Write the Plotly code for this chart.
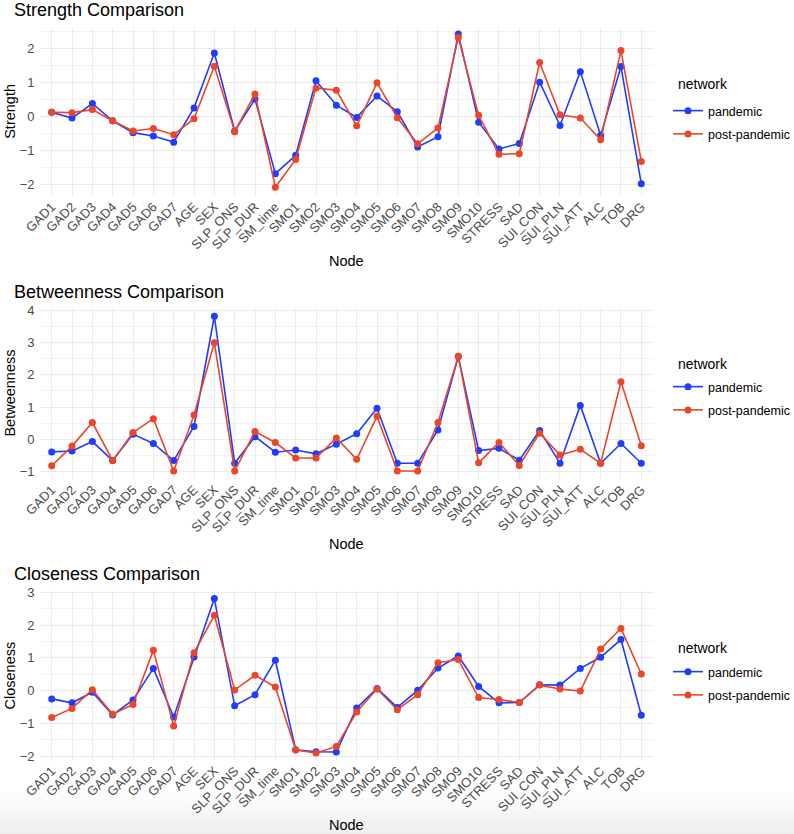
import plotly.graph_objects as go

nodes = ["GAD1", "GAD2", "GAD3", "GAD4", "GAD5", "GAD6", "GAD7", "AGE", "SEX",
         "SLP_ONS", "SLP_DUR", "SM_time", "SMO1", "SMO2", "SMO3", "SMO4", "SMO5",
         "SMO6", "SMO7", "SMO8", "SMO9", "SMO10", "STRESS", "SAD", "SUI_CON",
         "SUI_PLN", "SUI_ATT", "ALC", "TOB", "DRG"]

strength_pandemic = [0.13, -0.04, 0.39, -0.12, -0.47, -0.57, -0.75, 0.26, 1.88, -0.42,
                     0.52, -1.68, -1.14, 1.06, 0.34, -0.02, 0.61, 0.15, -0.89, -0.59,
                     2.44, -0.16, -0.95, -0.79, 1.02, -0.26, 1.33, -0.55, 1.48, -1.98]
strength_post = [0.13, 0.12, 0.21, -0.12, -0.42, -0.35, -0.53, -0.06, 1.49, -0.44,
                 0.67, -2.08, -1.26, 0.85, 0.78, -0.27, 1.00, -0.03, -0.80, -0.33,
                 2.34, 0.04, -1.11, -1.09, 1.60, 0.06, -0.04, -0.68, 1.95, -1.32]

betweenness_pandemic = [-0.39, -0.36, -0.07, -0.66, 0.16, -0.13, -0.66, 0.40, 3.81, -0.74,
                        0.08, -0.40, -0.33, -0.45, -0.15, 0.17, 0.96, -0.74, -0.74, 0.29,
                        2.56, -0.35, -0.28, -0.65, 0.27, -0.74, 1.05, -0.74, -0.13, -0.74]
betweenness_post = [-0.82, -0.21, 0.52, -0.66, 0.21, 0.64, -0.98, 0.75, 2.99, -0.98,
                    0.24, -0.10, -0.58, -0.58, 0.04, -0.62, 0.71, -0.98, -0.98, 0.52,
                    2.57, -0.73, -0.10, -0.81, 0.19, -0.49, -0.31, -0.74, 1.78, -0.20]

closeness_pandemic = [-0.25, -0.37, -0.05, -0.74, -0.28, 0.68, -0.80, 1.03, 2.81, -0.46,
                      -0.12, 0.93, -1.80, -1.86, -1.87, -0.53, 0.07, -0.51, 0.01, 0.69,
                      1.06, 0.13, -0.37, -0.36, 0.18, 0.17, 0.68, 1.02, 1.56, -0.75]
closeness_post = [-0.82, -0.54, 0.03, -0.72, -0.42, 1.23, -1.08, 1.16, 2.30, 0.02,
                  0.47, 0.11, -1.81, -1.90, -1.70, -0.65, 0.05, -0.58, -0.12, 0.85,
                  0.95, -0.21, -0.27, -0.36, 0.17, 0.05, -0.01, 1.27, 1.90, 0.51]

series_names = ["pandemic", "post-pandemic"]
legend_title = "network"
colors = ["#1f3cff", "#ec4528"]

panels = [
    ("Strength Comparison", "Strength", strength_pandemic, strength_post),
    ("Betweenness Comparison", "Betweenness", betweenness_pandemic, betweenness_post),
    ("Closeness Comparison", "Closeness", closeness_pandemic, closeness_post),
]

W, H = 794, 834
FONT = "Liberation Sans, Arial, Helvetica, sans-serif"

def py(px):
    return 1 - px / H

# layout geometry (pixels)
x_dom = [39.5 / W, 653.5 / W]
y_doms = [[py(195.7), py(27.9)], [py(478.7), py(308.5)], [py(759.9), py(591.0)]]
y_ranges = [[-2.33, 2.62], [-1.22, 4.05], [-2.11, 3.04]]
title_y = [10, 292, 574]
xtitle_y = [261, 544, 825]
legend_first = [111, 387, 672]
legend_title_y = [84, 364, 648]

fig = go.Figure()
annotations = []
layout = {}

for p, (title, ylab, s1, s2) in enumerate(panels):
    suffix = "" if p == 0 else str(p + 1)
    xa = "x" + suffix
    ya = "y" + suffix
    leg = "legend" + suffix
    for k, (name, vals, col) in enumerate(zip(series_names, [s1, s2], colors)):
        fig.add_trace(go.Scatter(
            x=nodes, y=vals, name=name, mode="lines+markers",
            line=dict(color=col, width=1.6),
            marker=dict(color=col, size=7),
            xaxis=xa, yaxis=ya, legend=leg, legendgroup="g%d_%d" % (p, k),
        ))
    layout["xaxis" + suffix] = dict(
        domain=x_dom, anchor=ya, type="category", categoryorder="array",
        categoryarray=nodes, range=[-0.6, len(nodes) - 0.4], automargin=False,
        tickangle=-45, showgrid=True, gridcolor="#ebebeb", gridwidth=1.1,
        zeroline=False, showline=False, ticks="",
        tickfont=dict(family=FONT, size=13, color="#4d4d4d"),
        fixedrange=True,
    )
    layout["yaxis" + suffix] = dict(
        domain=y_doms[p], anchor=xa, range=y_ranges[p], dtick=1, tick0=0,
        automargin=False, ticklabelstandoff=4,
        showgrid=True, gridcolor="#ebebeb", gridwidth=1.1,
        minor=dict(dtick=0.5, tick0=0, showgrid=True, gridcolor="#f3f3f3", gridwidth=0.6),
        zeroline=False, showline=False, ticks="",
        tickfont=dict(family=FONT, size=13, color="#4d4d4d"),
        fixedrange=True,
    )
    layout[leg] = dict(
        x=668 / W, xanchor="left", y=py(legend_first[p] - 15), yanchor="top",
        font=dict(family=FONT, size=12.5, color="#000000"),
        bgcolor="rgba(0,0,0,0)", tracegroupgap=4,
    )
    annotations.append(dict(
        text=legend_title, x=676 / W, y=py(legend_title_y[p]), xref="paper", yref="paper",
        xanchor="left", yanchor="middle", showarrow=False,
        font=dict(family=FONT, size=14, color="#000000"),
    ))
    annotations.append(dict(
        text=title, x=12 / W, y=py(title_y[p]), xref="paper", yref="paper",
        xanchor="left", yanchor="middle", showarrow=False,
        font=dict(family=FONT, size=18, color="#000000"),
    ))
    annotations.append(dict(
        text=ylab, x=10 / W, y=(y_doms[p][0] + y_doms[p][1]) / 2, xref="paper", yref="paper",
        xanchor="center", yanchor="middle", showarrow=False, textangle=-90,
        font=dict(family=FONT, size=14.5, color="#000000"),
    ))
    annotations.append(dict(
        text="Node", x=(x_dom[0] + x_dom[1]) / 2, y=py(xtitle_y[p]), xref="paper", yref="paper",
        xanchor="center", yanchor="middle", showarrow=False,
        font=dict(family=FONT, size=14.5, color="#000000"),
    ))

# faint bottom shading band (as in the reference screenshot)
shapes = []
n_band = 10
for i in range(n_band):
    y0 = 792 + i * 4.2
    shapes.append(dict(
        type="rect", xref="paper", yref="paper", x0=0, x1=1,
        y0=py(y0 + 4.2), y1=py(y0), line=dict(width=0),
        fillcolor="rgba(120,120,120,%.3f)" % (0.012 + 0.012 * i), layer="below",
    ))

fig.update_layout(
    width=W, height=H, margin=dict(l=0, r=0, t=0, b=0, autoexpand=False),
    paper_bgcolor="white", plot_bgcolor="white",
    annotations=annotations, shapes=shapes,
    font=dict(family=FONT),
    **layout,
)

fig.write_html("out.html")
